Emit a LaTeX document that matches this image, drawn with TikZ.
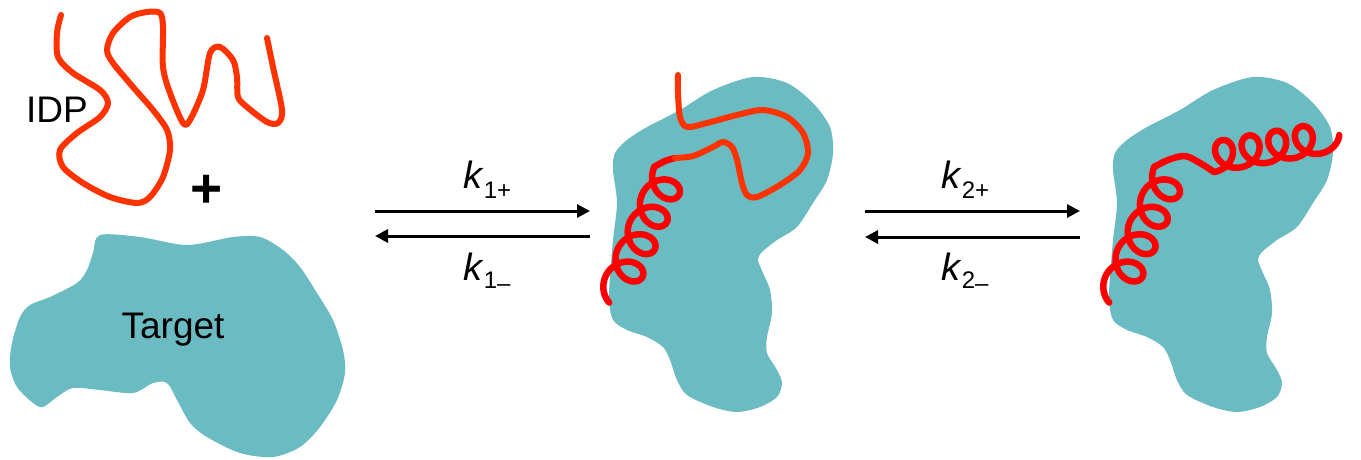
\documentclass[tikz,border=0pt]{standalone}
\usepackage{fontspec}
\setmainfont{Liberation Sans}
\usepackage{tikz}
\usetikzlibrary{arrows.meta}

\definecolor{targetteal}{RGB}{107,187,194}
\definecolor{chainorange}{RGB}{255,51,0}
\definecolor{helixred}{RGB}{255,0,0}

\begin{document}
\begin{tikzpicture}[x=1pt, y=-1pt,
  target/.style={fill=targetteal},
  chain/.style={draw=chainorange, line width=6pt, line cap=round, line join=round},
  coil/.style={draw=helixred, line width=6.5pt, line cap=round, line join=round},
  rate/.style={line width=3pt, -{Triangle[length=13pt, width=13pt]}},
  lbl/.style={font=\fontsize{37}{44}\selectfont, inner sep=0pt, anchor=base},
  klbl/.style={font=\fontsize{38}{44}\selectfont, inner sep=0pt, anchor=base west}]
\useasboundingbox (0,0) rectangle (1361,460);

% Free target
\fill[target] plot[smooth cycle] coordinates {(100,235) (140,237) (187,245) (233,237)
  (260,237) (283,250) (300,267) (317,293) (333,320) (343,350) (345,373) (337,400)
  (320,427) (300,447) (273,457) (240,453) (207,437) (190,423) (177,400) (167,383)
  (153,383) (133,393) (100,390) (73,388) (57,397) (43,407) (33,403) (17,387) (10,367)
  (12,343) (20,317) (30,305) (50,297) (77,283) (87,270) (93,253)};
\node[lbl] (target) at (173,338) {Target};

% Free IDP chain
\draw[chain] plot[smooth] coordinates {(61,15) (57,33) (58,57) (73,73) (100,90) (108,103)
  (100,117) (77,133) (60,150) (63,167) (83,183) (110,197) (137,203) (150,197) (163,177)
  (170,150) (167,130) (153,110) (133,87) (113,63) (107,50) (113,33) (130,17) (147,12)
  (160,13) (163,27) (163,67) (170,93) (183,123) (190,120) (203,90) (210,53) (220,47)
  (233,60) (237,77) (238,97) (247,107) (267,122) (278,123) (282,110) (273,67) (267,38)};
\node[lbl] (idp) at (57,122) {IDP};
\node[font=\fontsize{55}{55}\selectfont\bfseries, inner sep=0pt] (plus) at (207,191) {+};

% Bound complexes: same target, same first helix
\foreach \dx in {0,500} {
  \begin{scope}[shift={(\dx,0)}]
    \fill[target] plot[smooth cycle] coordinates {(753,77) (787,83) (813,103) (830,127)
      (833,153) (827,180) (813,203) (797,227) (777,240) (762,252) (758,260) (763,273)
      (770,290) (772,313) (767,337) (767,353) (777,370) (782,383) (777,397) (760,407)
      (737,412) (713,407) (687,395) (677,380) (670,360) (663,347) (647,337) (627,330)
      (613,320) (609,300) (610,277) (613,240) (617,203) (613,170) (615,153) (627,140)
      (647,127) (680,110) (713,90)};
    % helix along the left edge
    \draw[coil] plot[domain=-80:1440, samples=400, variable=\t]
      ({605.5 + 0.407*(\t/12 + 16*sin(\t)) + 0.913*17*(1-cos(\t))},
       {276.4 - 0.913*(\t/12 + 16*sin(\t)) + 0.407*17*(1-cos(\t))});
  \end{scope}
}

% Encounter complex: rest of the chain still loose
\draw[coil] plot[smooth] coordinates {(654,167) (665,161) (675,158)};
\draw[chain] plot[smooth] coordinates {(675,158) (693,156) (713,147) (723,142) (732,147)
  (737,160) (742,183) (747,195) (757,197) (780,185) (800,170) (808,153) (803,133)
  (787,117) (763,110) (737,115) (707,123) (687,127) (680,117) (678,93) (678,75)};

% Final complex: second helix across the top
\draw[coil] plot[smooth] coordinates {(1154,167) (1168,160) (1185,156) (1200,163) (1214,172)};
\draw[coil] plot[domain=0:1530, samples=400, variable=\t]
  ({1214 + 0.985*(\t/13.33 + 15*sin(\t)) - 0.171*15*(1-cos(\t))},
   {172 - 0.171*(\t/13.33 + 15*sin(\t)) - 0.985*15*(1-cos(\t))});

% Rate arrows
\coordinate (a1) at (375,211); \coordinate (b1) at (590,211);
\coordinate (c1) at (375,236); \coordinate (d1) at (590,236);
\coordinate (a2) at (865,211); \coordinate (b2) at (1080,211);
\coordinate (c2) at (865,237); \coordinate (d2) at (1080,237);
\draw[rate] (a1) -- (b1);
\draw[rate] (d1) -- (c1);
\draw[rate] (a2) -- (b2);
\draw[rate] (d2) -- (c2);

\node[klbl] (k1p) at (463,188) {\textit{k}\raisebox{-10pt}{\fontsize{24}{26}\selectfont 1+}};
\node[klbl] (k1m) at (463,280) {\textit{k}\raisebox{-8pt}{\fontsize{24}{26}\selectfont 1\raisebox{-3pt}{–}}};
\node[klbl] (k2p) at (941,188) {\textit{k}\raisebox{-10pt}{\fontsize{24}{26}\selectfont 2+}};
\node[klbl] (k2m) at (941,280) {\textit{k}\raisebox{-8pt}{\fontsize{24}{26}\selectfont 2\raisebox{-3pt}{–}}};

\end{tikzpicture}
\end{document}
